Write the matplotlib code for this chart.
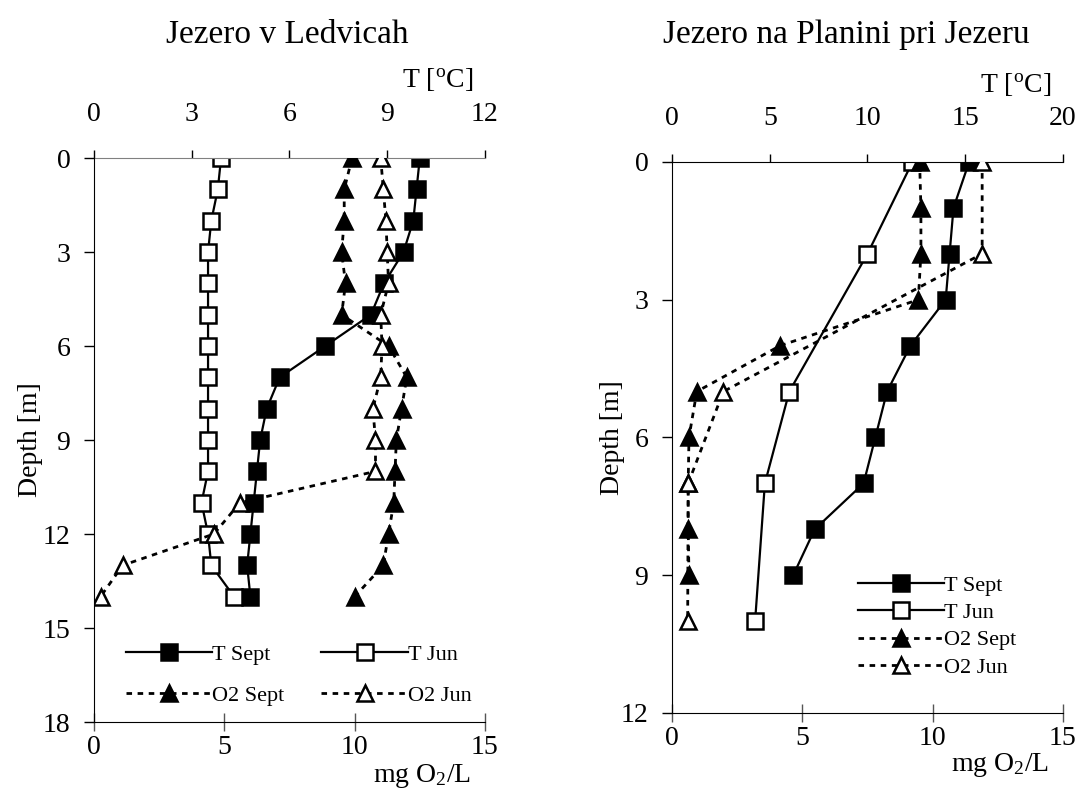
import matplotlib
matplotlib.use("Agg")
import matplotlib.pyplot as plt

plt.rcParams['font.family'] = ['Liberation Serif', 'DejaVu Serif']
plt.rcParams['mathtext.fontset'] = 'custom'
plt.rcParams['mathtext.rm'] = 'Liberation Serif'
plt.rcParams['mathtext.it'] = 'Liberation Serif:italic'

# Jezero v Ledvicah
led_depth = list(range(15))
led_t_sept = [10.0, 9.9, 9.8, 9.5, 8.9, 8.5, 7.1, 5.7, 5.3, 5.1, 5.0, 4.9, 4.8, 4.7, 4.8]
led_t_jun = [3.9, 3.8, 3.6, 3.5, 3.5, 3.5, 3.5, 3.5, 3.5, 3.5, 3.5, 3.3, 3.5, 3.6, 4.3]
led_o2_sept = [9.9, 9.6, 9.6, 9.5, 9.65, 9.5, 11.3, 12.0, 11.8, 11.6, 11.55, 11.5, 11.3, 11.1, 10.0]
led_o2_jun = [11.0, 11.1, 11.2, 11.25, 11.3, 11.0, 11.05, 11.0, 10.7, 10.8, 10.8, 5.6, 4.6, 1.1, 0.25]

# Jezero na Planini pri Jezeru
pla_depth_sept = list(range(10))
pla_t_sept = [15.2, 14.4, 14.2, 14.0, 12.2, 11.0, 10.4, 9.8, 7.3, 6.2]
pla_o2_sept = [9.5, 9.55, 9.55, 9.45, 4.15, 0.95, 0.65, 0.62, 0.62, 0.65]
pla_depth_jun = [0, 2, 5, 7, 10]
pla_t_jun = [12.3, 10.0, 6.0, 4.75, 4.25]
pla_o2_jun = [11.9, 11.9, 1.97, 0.62, 0.6]

fig = plt.figure(figsize=(10.82, 8.05), dpi=100)

sq = dict(marker='s', ms=11, mew=1.8, mec='black', color='black', lw=1.6)
tri = dict(marker='^', ms=12, mew=1.8, mec='black', color='black', lw=2.0, dashes=(2, 2))


def panel(pos, title, title_x, tmax, tstep, ymax, d_sept, t_sept, o_sept, d_jun, t_jun, o_jun,
          top_color, ylpad, leg_kw, leg_order):
    ax = fig.add_axes(pos)
    axt = ax.twiny()
    ax.set_zorder(2)
    ax.patch.set_visible(False)

    h1, = axt.plot(t_sept, d_sept, mfc='black', **sq)
    h2, = axt.plot(t_jun, d_jun, mfc='white', **sq)
    h3, = ax.plot(o_sept, d_sept, mfc='black', **tri)
    h4, = ax.plot(o_jun, d_jun, mfc='white', **tri)

    ax.set_xlim(0, 15)
    ax.set_xticks([0, 5, 10, 15])
    ax.set_ylim(ymax, 0)
    ax.set_yticks(range(0, ymax + 1, 3))
    axt.set_xlim(0, tmax)
    axt.set_xticks(range(0, tmax + 1, tstep))

    for s in ['top', 'right']:
        ax.spines[s].set_visible(False)
    for s in ['bottom', 'right', 'left']:
        axt.spines[s].set_visible(False)
    axt.spines['top'].set_color(top_color)

    ax.tick_params(axis='x', direction='inout', length=13, width=1, color='#555555',
                   labelsize=20, pad=3)
    ax.tick_params(axis='y', direction='out', length=7, width=1, labelsize=20, pad=10)
    axt.tick_params(axis='x', direction='out', length=6, width=1, labelsize=20, pad=16)

    ax.set_ylabel('Depth [m]', fontsize=20, labelpad=ylpad)
    fig.text(title_x, 1 - 35 / 805, title, fontsize=24, ha='center', va='center')
    ax.text(0.84, -0.095, 'mg O$_2$/L', transform=ax.transAxes, fontsize=20,
            ha='center', va='center')
    axt.text(0.88, 1.14, 'T [$^{\\rm o}$C]', transform=ax.transAxes, fontsize=20,
             ha='center', va='center')

    handles = {'T Sept': h1, 'T Jun': h2, 'O2 Sept': h3, 'O2 Jun': h4}
    ax.legend([handles[k] for k in leg_order], leg_order,
              frameon=False, fontsize=16, numpoints=1, handlelength=3.9,
              handletextpad=0.0, **leg_kw)


panel([0.0869, 0.1031, 0.3613, 0.7006], 'Jezero v Ledvicah', 287 / 1082, 12, 3, 18,
      led_depth, led_t_sept, led_o2_sept, led_depth, led_t_jun, led_o2_jun,
      '#808080', 0,
      dict(ncol=2, loc='lower left', bbox_to_anchor=(0.03, -0.007), columnspacing=1.65,
           labelspacing=0.92),
      ['T Sept', 'O2 Sept', 'T Jun', 'O2 Jun'])

panel([0.6211, 0.1143, 0.3613, 0.6845], 'Jezero na Planini pri Jezeru', 846 / 1082, 20, 5, 12,
      pla_depth_sept, pla_t_sept, pla_o2_sept, pla_depth_jun, pla_t_jun, pla_o2_jun,
      'black', -3,
      dict(ncol=1, loc='lower left', bbox_to_anchor=(0.424, 0.028), labelspacing=0.3),
      ['T Sept', 'T Jun', 'O2 Sept', 'O2 Jun'])

fig.savefig('out.png', dpi=100)
